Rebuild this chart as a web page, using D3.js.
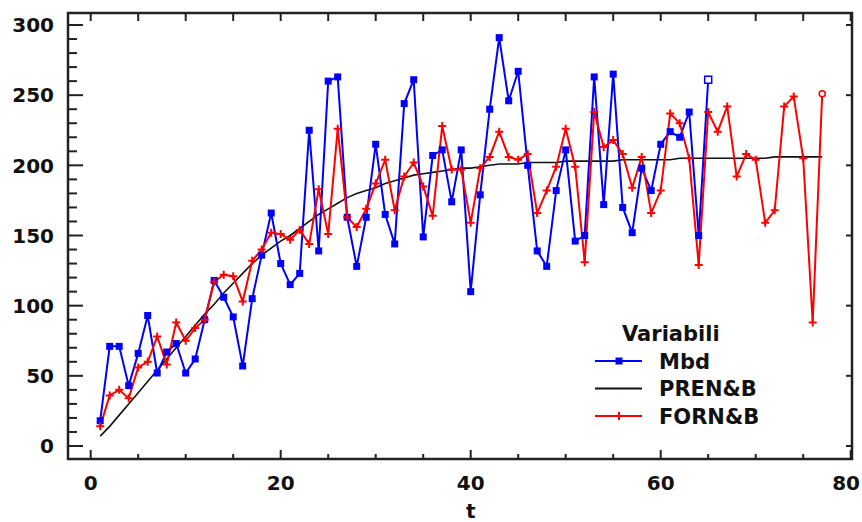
<!DOCTYPE html>
<html>
<head>
<meta charset="utf-8">
<script src="https://cdnjs.cloudflare.com/ajax/libs/d3/7.8.5/d3.min.js"></script>
<style>
	body { margin: 0; background: #fff; }
	svg { display: block; }
	text { font-family: "DejaVu Sans", Verdana, sans-serif; font-weight: bold; fill: #111; }
</style>
</head>
<body>
<svg id="chart" width="862" height="522"></svg>
<script>
// values
var mbd = [18, 71, 71, 43, 66, 93, 52, 67, 73, 52,
	62, 90, 118, 106, 92, 57, 105, 136, 166, 130,
	115, 123, 225, 139, 260, 263, 163, 128, 163, 215,
	165, 144, 244, 261, 149, 207, 211, 174, 211, 110,
	179, 240, 291, 246, 267, 200, 139, 128, 182, 211,
	146, 150, 263, 172, 265, 170, 152, 198, 182, 215,
	224, 220, 238, 150, 261];

var prenB = [7, 14, 22, 30, 38, 46, 54, 62, 70, 78,
	86, 94, 101, 109, 116, 123, 130, 136, 141, 146,
	150, 155, 160, 165, 169, 173, 177, 180, 182, 184,
	187, 189, 191, 193, 194, 195, 196, 197, 198, 198,
	199, 200, 201, 201, 201, 202, 202, 202, 202, 203,
	203, 203, 203, 203, 203, 204, 204, 204, 204, 204,
	204, 205, 205, 205, 205, 205, 205, 205, 205, 205,
	205, 206, 206, 206, 206, 206, 206];

var fornB = [14, 36, 40, 34, 56, 60, 78, 58, 88, 75,
	84, 90, 117, 122, 121, 103, 132, 140, 152, 151,
	147, 154, 144, 183, 151, 226, 163, 156, 169, 187,
	204, 168, 192, 202, 185, 164, 228, 197, 197, 159,
	198, 206, 224, 206, 204, 208, 166, 182, 199, 226,
	199, 131, 238, 213, 218, 208, 184, 206, 166, 182,
	237, 230, 205, 129, 238, 224, 242, 192, 208, 204,
	159, 168, 242, 249, 205, 88, 251];

var xTicks = [0, 20, 40, 60, 80];
var yTicks = [0, 50, 100, 150, 200, 250, 300];
var legendLabels = ['Mbd', 'PREN&B', 'FORN&B'];
var legendTitle = 'Variabili';
var xTitle = 't';

var svg = d3.select('#chart');

var frame = { left: 68, right: 852, top: 13, bottom: 459 };

var x = d3.scaleLinear().domain([0, 80]).range([90.7, 850.7]);
var y = d3.scaleLinear().domain([0, 300]).range([446, 25]);

var toPoints = function (values) {
	return values.map(function (v, i) { return { t: i + 1, v: v }; });
};

var line = d3.line()
	.x(function (d) { return x(d.t); })
	.y(function (d) { return y(d.v); });

/* Axes */
var minorY = d3.range(0, 301, 10);
var fiveX = d3.range(0, 81, 5);

// left ticks, inward
svg.append('g')
	.attr('transform', 'translate(' + frame.left + ',0)')
	.selectAll('line')
	.data(minorY)
	.enter().append('line')
		.attr('x1', 0)
		.attr('x2', function (d) { return d % 50 === 0 ? 15 : 9; })
		.attr('y1', function (d) { return y(d); })
		.attr('y2', function (d) { return y(d); })
		.attr('stroke', '#222')
		.attr('stroke-width', 2);

// right ticks, inward, majors only
svg.append('g')
	.attr('transform', 'translate(' + frame.right + ',0)')
	.selectAll('line')
	.data(yTicks)
	.enter().append('line')
		.attr('x1', 0)
		.attr('x2', -6)
		.attr('y1', function (d) { return y(d); })
		.attr('y2', function (d) { return y(d); })
		.attr('stroke', '#222')
		.attr('stroke-width', 2);

// bottom ticks, inward
svg.append('g')
	.attr('transform', 'translate(0,' + frame.bottom + ')')
	.selectAll('line')
	.data(fiveX)
	.enter().append('line')
		.attr('x1', function (d) { return x(d); })
		.attr('x2', function (d) { return x(d); })
		.attr('y1', 0)
		.attr('y2', function (d) { return d % 20 === 0 ? -9 : -5; })
		.attr('stroke', '#222')
		.attr('stroke-width', 2);

// top ticks, inward
svg.append('g')
	.attr('transform', 'translate(0,' + frame.top + ')')
	.selectAll('line')
	.data(fiveX)
	.enter().append('line')
		.attr('x1', function (d) { return x(d); })
		.attr('x2', function (d) { return x(d); })
		.attr('y1', 0)
		.attr('y2', 8)
		.attr('stroke', '#222')
		.attr('stroke-width', 2);

svg.append('rect')
	.attr('x', frame.left)
	.attr('y', frame.top)
	.attr('width', frame.right - frame.left)
	.attr('height', frame.bottom - frame.top)
	.attr('fill', 'none')
	.attr('stroke', '#222')
	.attr('stroke-width', 2.5);

svg.append('g')
	.selectAll('text')
	.data(yTicks)
	.enter().append('text')
		.attr('x', 54)
		.attr('y', function (d) { return y(d); })
		.attr('dy', '0.36em')
		.attr('text-anchor', 'end')
		.style('font-size', '20px')
		.text(function (d) { return d; });

// the last label sits against the right edge, so keep it inside
svg.append('g')
	.selectAll('text')
	.data(xTicks)
	.enter().append('text')
		.attr('x', function (d, i) { return i === xTicks.length - 1 ? 860 : x(d); })
		.attr('y', 490)
		.attr('text-anchor', function (d, i) { return i === xTicks.length - 1 ? 'end' : 'middle'; })
		.style('font-size', '20px')
		.text(function (d) { return d; });

svg.append('text')
	.attr('x', x(40))
	.attr('y', 518)
	.attr('text-anchor', 'middle')
	.style('font-size', '20px')
	.text(xTitle);

/* Series */
var plot = svg.append('g');

plot.append('path')
	.datum(toPoints(prenB))
	.attr('d', line)
	.attr('fill', 'none')
	.attr('stroke', '#111')
	.attr('stroke-width', 1.6);

plot.append('path')
	.datum(toPoints(mbd))
	.attr('d', line)
	.attr('fill', 'none')
	.attr('stroke', '#0000ff')
	.attr('stroke-width', 2);

plot.append('path')
	.datum(toPoints(fornB))
	.attr('d', line)
	.attr('fill', 'none')
	.attr('stroke', '#ff0000')
	.attr('stroke-width', 2);

var squares = toPoints(mbd);
plot.append('g')
	.selectAll('rect')
	.data(squares)
	.enter().append('rect')
		.attr('x', function (d) { return x(d.t) - 3.5; })
		.attr('y', function (d) { return y(d.v) - 3.5; })
		.attr('width', 7)
		.attr('height', 7)
		.attr('fill', function (d, i) { return i === squares.length - 1 ? '#fff' : '#0000ff'; })
		.attr('stroke', '#0000ff')
		.attr('stroke-width', function (d, i) { return i === squares.length - 1 ? 1.5 : 0; });

var crosses = toPoints(fornB);
plot.append('g')
	.selectAll('path')
	.data(crosses.slice(0, -1))
	.enter().append('path')
		.attr('d', function (d) {
			var cx = x(d.t), cy = y(d.v);
			return 'M' + (cx - 4) + ',' + cy + 'H' + (cx + 4) + 'M' + cx + ',' + (cy - 4) + 'V' + (cy + 4);
		})
		.attr('stroke', '#ff0000')
		.attr('stroke-width', 2);

var lastRed = crosses[crosses.length - 1];
plot.append('circle')
	.attr('cx', x(lastRed.t))
	.attr('cy', y(lastRed.v))
	.attr('r', 3)
	.attr('fill', '#fff')
	.attr('stroke', '#ff0000')
	.attr('stroke-width', 1.5);

/* Legend */
var legend = svg.append('g');

legend.append('text')
	.attr('x', 622)
	.attr('y', 341)
	.style('font-size', '21px')
	.text(legendTitle);

var legendColors = ['#0000ff', '#111', '#ff0000'];
var rowY = d3.scalePoint().domain(legendLabels).range([361, 416]);

var rows = legend.selectAll('g.row')
	.data(legendLabels)
	.enter().append('g')
		.classed('row', true)
		.attr('transform', function (d) { return 'translate(0,' + rowY(d) + ')'; });

rows.append('line')
	.attr('x1', 595)
	.attr('x2', 642)
	.attr('stroke', function (d, i) { return legendColors[i]; })
	.attr('stroke-width', 2);

rows.filter(function (d, i) { return i === 0; })
	.append('rect')
		.attr('x', 615.5)
		.attr('y', -3.5)
		.attr('width', 7)
		.attr('height', 7)
		.attr('fill', '#0000ff');

rows.filter(function (d, i) { return i === 2; })
	.append('path')
		.attr('d', 'M619,-4V4')
		.attr('stroke', '#ff0000')
		.attr('stroke-width', 2);

rows.append('text')
	.attr('x', 659)
	.attr('dy', '0.36em')
	.style('font-size', '21px')
	.text(function (d) { return d; });
</script>
</body>
</html>
